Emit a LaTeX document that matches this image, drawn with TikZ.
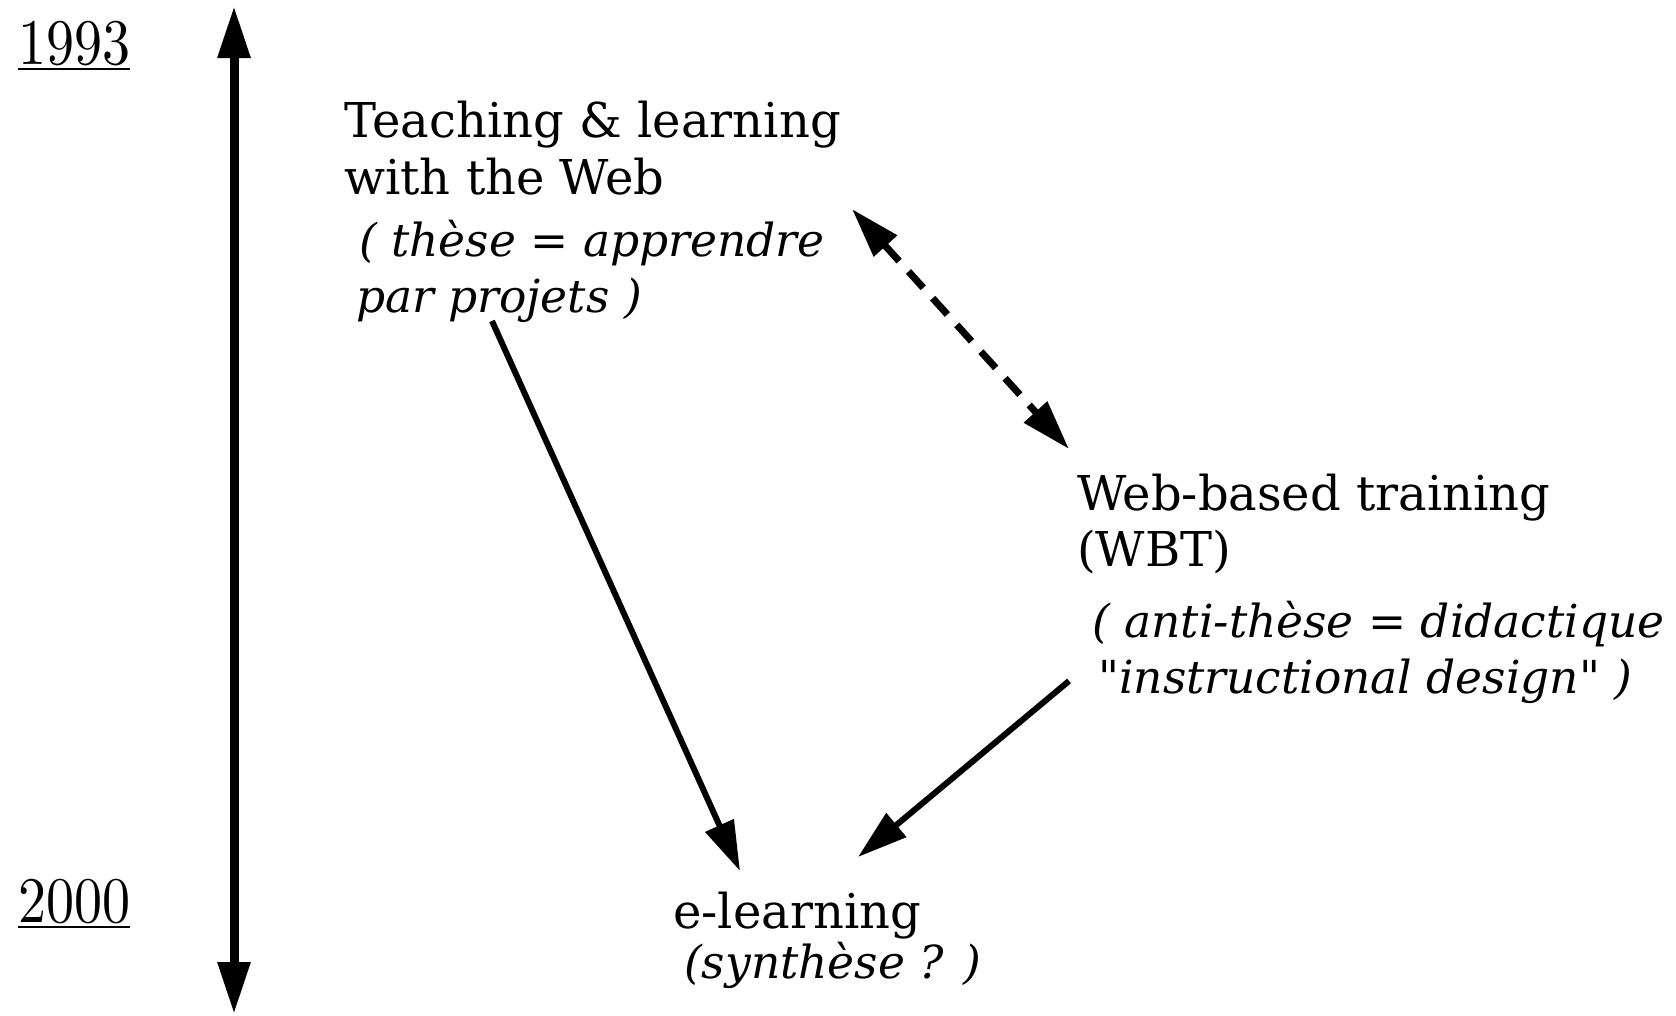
\documentclass[tikz,border=0pt]{standalone}
\usepackage{graphicx}
\usepackage{fontspec}
\setmainfont{DejaVu Serif}
\newfontfamily\yearfont{Latin Modern Roman}
\usetikzlibrary{arrows.meta}
\newcommand{\yearlabel}[1]{\scalebox{5.6}[6.5]{\yearfont\fontsize{10}{12}\selectfont #1}}
\begin{document}
\begin{tikzpicture}[x=1pt,y=-1pt,
  txt/.style={inner sep=0pt,anchor=base west,font=\fontsize{48}{57}\selectfont},
  itxt/.style={txt,font=\fontsize{45.5}{57}\selectfont\itshape},
  yr/.style={inner sep=0pt,anchor=base west},
  timeline/.style={line width=9pt,{Triangle[length=52pt,width=31pt]}-{Triangle[length=52pt,width=31pt]}},
  link/.style={line width=6pt,-{Triangle[length=50pt,width=30pt]}},
  dlink/.style={line width=7pt,dash pattern=on 22pt off 14pt,{Triangle[length=50pt,width=30pt]}-{Triangle[length=50pt,width=30pt]}}
]
\useasboundingbox (0,0) rectangle (1676,1015);
% years
\node[yr] (y1) at (18,64) {\yearlabel{1993}};
\node[yr] (y2) at (18,922) {\yearlabel{2000}};
\draw[line width=2.5pt] ([yshift=-5pt]y1.base west) -- ([yshift=-5pt]y1.base east);
\draw[line width=2.5pt] ([yshift=-5pt]y2.base west) -- ([yshift=-5pt]y2.base east);
% timeline
\coordinate (ttop) at (234,6);
\coordinate (tbot) at (234,1014);
\draw[timeline] (ttop) -- (tbot);
% texts
\node[txt] (t1a) at (344,137) {Teaching \& learning};
\node[txt] (t1b) at (344,194) {with the Web};
\node[itxt] (t1c) at (359,256) {( thèse = apprendre};
\node[itxt] (t1d) at (356,312) {par projets )};
\node[txt] (t2a) at (1077,510) {Web-based training};
\node[txt] (t2b) at (1077,566) {(WBT)};
\node[itxt] (t2c) at (1092,637) {( anti-thèse = didactique};
\node[itxt] (t2d) at (1098,693) {\addfontfeature{Ligatures=TeXOff}"instructional design" )};
\node[txt] (t3a) at (673,928) {e-learning};
\node[itxt] (t3b) at (684,978) {(synthèse ? )};
% connectors
\coordinate (a1s) at (492,321);
\coordinate (a1e) at (740,871);
\coordinate (a2s) at (1069,681);
\coordinate (a2e) at (858,857);
\coordinate (d1s) at (852,209);
\coordinate (d1e) at (1069,449);
\draw[link] (a1s) -- (a1e);
\draw[link] (a2s) -- (a2e);
\draw[dlink] (d1s) -- (d1e);
\end{tikzpicture}
\end{document}
